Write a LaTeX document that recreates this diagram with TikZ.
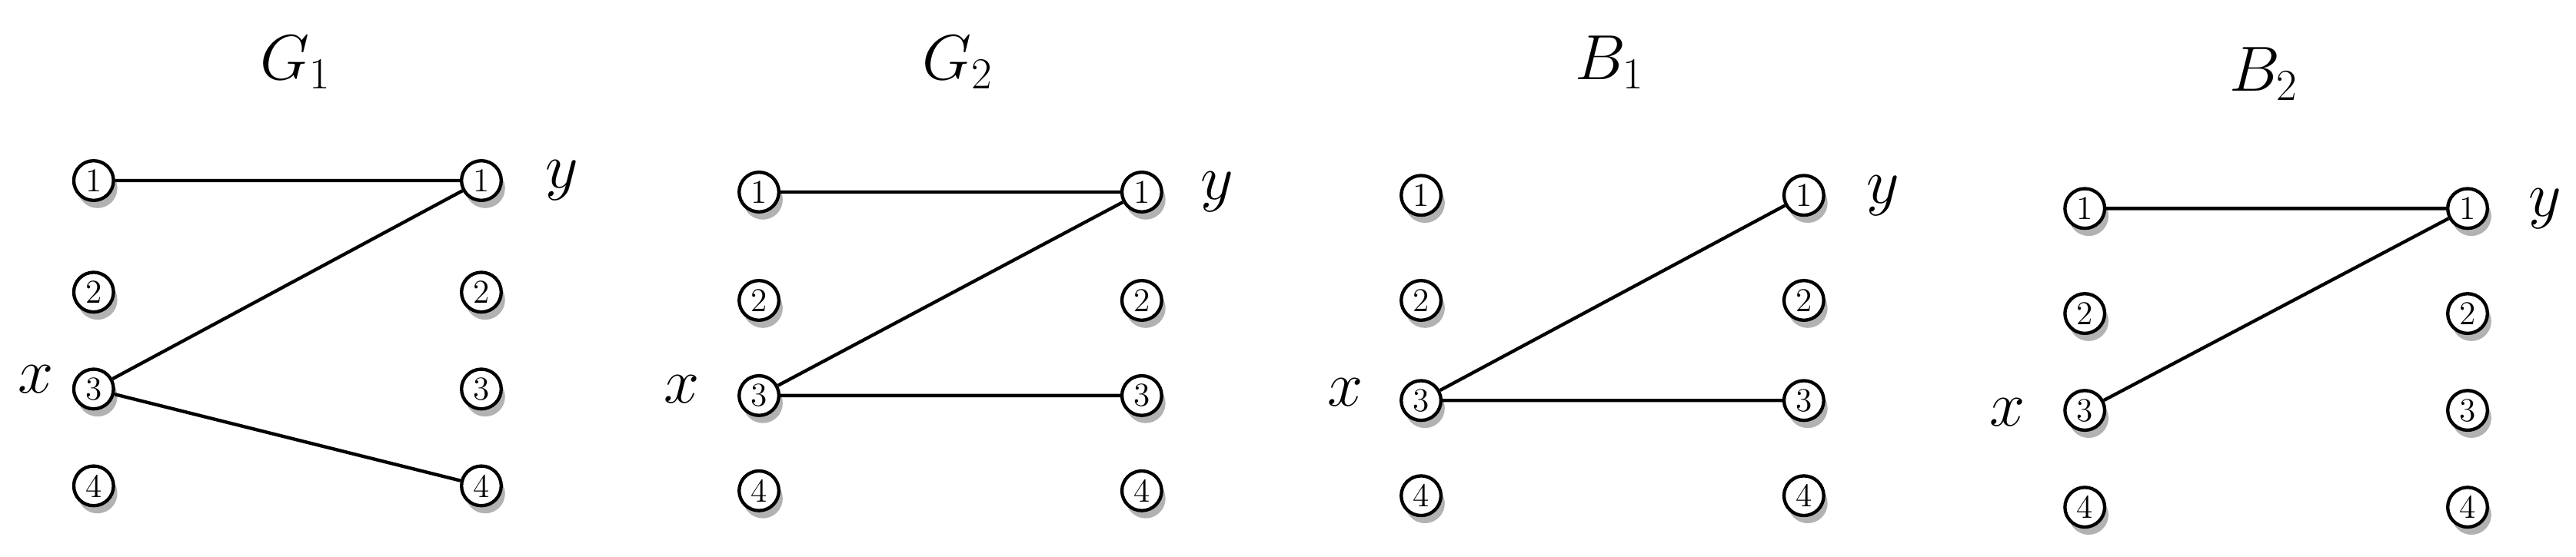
\documentclass[tikz,border=0pt]{standalone}
\usetikzlibrary{shadows}
\begin{document}
\begin{tikzpicture}[x=0.641pt,y=-0.641pt,
  v/.style={circle,draw,line width=1.3pt,fill=white,inner sep=0pt,minimum size=15.5pt,
    font=\fontsize{13}{13}\selectfont,
    drop shadow={shadow xshift=1.5pt,shadow yshift=-3pt,opacity=0.3,fill=black}},
  lab/.style={font=\fontsize{31}{31}\selectfont},
  ttl/.style={font=\fontsize{26}{26}\selectfont},
  e/.style={line width=1.3pt}]
\useasboundingbox (0,0) rectangle (1568,339);
% G1
\node[ttl] (t1) at (180,38) {$G_1$};
\foreach \i/\y in {1/110,2/178,3/237,4/296}{
  \node[v] (a\i) at (57,\y) {\i}; \node[v] (b\i) at (293,\y) {\i};}
\node[lab] (xa) at (22,231) {$x$};
\node[lab] (ya) at (342,110) {$y$};
\draw[e] (a1)--(b1) (a3)--(b1) (a3)--(b4);
% G2
\node[ttl] (t2) at (583,38) {$G_2$};
\foreach \i/\y in {1/117,2/183,3/241,4/299}{
  \node[v] (c\i) at (462,\y) {\i}; \node[v] (d\i) at (695,\y) {\i};}
\node[lab] (xb) at (415,237) {$x$};
\node[lab] (yb) at (741,117) {$y$};
\draw[e] (c1)--(d1) (c3)--(d1) (c3)--(d3);
% B1
\node[ttl] (t3) at (980,38) {$B_1$};
\foreach \i/\y in {1/119,2/183,3/244,4/302}{
  \node[v] (f\i) at (865,\y) {\i}; \node[v] (g\i) at (1098,\y) {\i};}
\node[lab] (xc) at (819,239) {$x$};
\node[lab] (yc) at (1146,119) {$y$};
\draw[e] (f3)--(g1) (f3)--(g3);
% B2
\node[ttl] (t4) at (1378,45) {$B_2$};
\foreach \i/\y in {1/127,2/191,3/250,4/309}{
  \node[v] (h\i) at (1269,\y) {\i}; \node[v] (k\i) at (1502,\y) {\i};}
\node[lab] (xd) at (1222,251) {$x$};
\node[lab] (yd) at (1549,127) {$y$};
\draw[e] (h1)--(k1) (h3)--(k1);
\end{tikzpicture}
\end{document}
